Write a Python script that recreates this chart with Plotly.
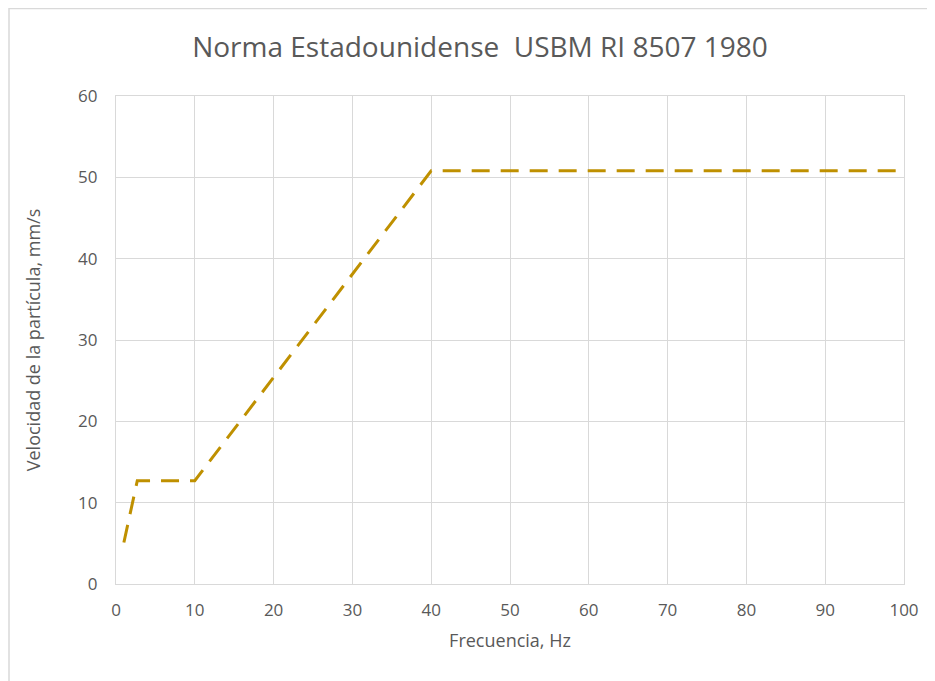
import plotly.graph_objects as go

frecuencia = [1, 2.7, 10, 40, 100]
velocidad = [5.1, 12.7, 12.7, 50.8, 50.8]

x_ticks = list(range(0, 101, 10))
y_ticks = list(range(0, 61, 10))

W, H = 935, 681
OFF = 8  # page body offset
L, R, T, B = 116 - OFF, 31 + OFF, 96 - OFF, 97 + OFF
pw, ph = W - L - R, H - T - B

fig = go.Figure()
fig.add_trace(go.Scatter(
    x=frecuencia, y=velocidad, mode="lines",
    line=dict(color="#BF9000", width=3, dash="18px,11px"),
    showlegend=False, hoverinfo="x+y"))

font_fam = "Open Sans, Noto Sans, sans-serif"
axis_common = dict(
    showgrid=True, gridcolor="#D9D9D9", gridwidth=1.3,
    showline=True, linecolor="#D9D9D9", linewidth=1.3, mirror=True,
    zeroline=False, ticks="outside", tickcolor="rgba(0,0,0,0)",
    tickfont=dict(family=font_fam, size=17, color="#595959"),
)

fig.update_layout(
    width=W, height=H,
    margin=dict(l=L, r=R, t=T, b=B),
    paper_bgcolor="white", plot_bgcolor="white",
    title=dict(text="Norma Estadounidense  USBM RI 8507 1980",
               x=(480 - OFF) / W, xanchor="center", xref="container",
               y=1 - (47 - OFF) / H, yanchor="middle", yref="container",
               font=dict(family=font_fam, size=28, color="#595959")),
    xaxis=dict(range=[0, 100], tickvals=x_ticks, ticklen=10,
               title=dict(text="Frecuencia, Hz", standoff=14,
                          font=dict(family=font_fam, size=18, color="#595959")),
               **axis_common),
    yaxis=dict(range=[0, 60], tickvals=y_ticks, ticklen=14,
               title=dict(text="Velocidad de la partícula, mm/s", standoff=32,
                          font=dict(family=font_fam, size=18, color="#595959")),
               **axis_common),
)

# outer chart frame
fig.add_shape(type="rect", xref="paper", yref="paper",
              x0=(9 - OFF - L) / pw, x1=(W + 40 - L) / pw,
              y0=-(H + 40 - T - ph) / ph, y1=1 + (T - (8.5 - OFF)) / ph,
              line=dict(color="#D9D9D9", width=1.5), layer="below")

fig.write_html("out.html")
